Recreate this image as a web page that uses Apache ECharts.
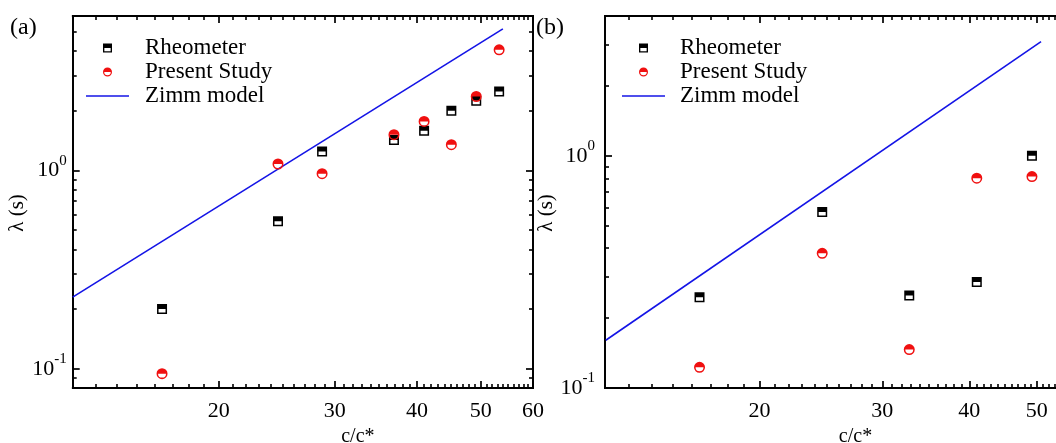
<!DOCTYPE html>
<html>
<head>
<meta charset="utf-8">
<script src="https://cdn.jsdelivr.net/npm/echarts@6/dist/echarts.min.js"></script>
<style>
html,body{margin:0;padding:0;overflow:hidden;background:#fff}
#c{width:1100px;height:443px}
</style>
</head>
<body>
<div id="c"></div>
<script>
// ---- Panel (a) data ----
const xA = [16.4, 24.6, 28.7, 36.9, 41.0, 45.1, 49.2, 53.3];
const rheoA = [0.200, 0.554, 1.246, 1.422, 1.585, 1.998, 2.243, 2.498];
const presentA = [0.0945, 1.077, 0.962, 1.513, 1.765, 1.347, 2.357, 4.05];
const zimmAx = [12.0, 54.0];
const zimmAy = [0.2296, 5.165];

// ---- Panel (b) data ----
const xB = [16.4, 24.6, 32.8, 41.0, 49.2];
const rheoB = [0.246, 0.573, 0.250, 0.286, 1.0];
const presentB = [0.1228, 0.380, 0.1464, 0.801, 0.814];
const zimmBx = [12.03, 50.7];
const zimmBy = [0.1606, 3.105];

// ---- Tick values ----
const xMajorTicks = [20, 30, 40, 50, 60];
const xMinorTicks = [13,14,15,16,17,18,19,21,22,23,24,25,26,27,28,29,31,32,33,34,35,36,37,38,39,41,42,43,44,45,46,47,48,49,51,52,53,54,55,56,57,58,59];
const yMajorTicks = [0.1, 1];
const yMinorTicksA = [0.09,0.2,0.3,0.4,0.5,0.6,0.7,0.8,0.9,2,3,4,5];
const yMinorTicksB = [0.2,0.3,0.4,0.5,0.6,0.7,0.8,0.9,2,3];

const FONT = 'Liberation Serif';
const BLUE = '#1414e6';
const RED = '#f01010';
const SQ = 'path://M0,0H10V10H0Z M1.5,5V8.5H8.5V5Z';
const CI = 'path://M0,5A5,5,0,1,1,10,5A5,5,0,1,1,0,5Z M1.4,5A3.6,3.6,0,0,0,8.6,5Z';
const LINE_ICON = 'path://M0,0H43V1.6H0Z';
const zip = (a, b) => a.map((v, i) => [v, b[i]]);
const LINE = {show:true, lineStyle:{color:'#000', width:1.8}};

function xAxes(grid, min, max, namePad) {
  const base = {type:'log', logBase:10, gridIndex:grid, min:min, max:max, splitLine:{show:false}};
  const tickMaj = {show:true, inside:true, length:7, lineStyle:{color:'#000', width:1.7}, customValues:xMajorTicks};
  const tickMin = {show:true, inside:true, length:4, lineStyle:{color:'#000', width:1.6}, customValues:xMinorTicks};
  const noLab = {show:false, customValues:xMinorTicks};
  return [
    Object.assign({}, base, {position:'bottom', axisLine:LINE, axisTick:tickMaj,
      axisLabel:{show:true, customValues:xMajorTicks, margin:12, fontSize:22, fontFamily:FONT, color:'#000',
        formatter: v => String(Math.round(v))},
      name:'c/c*', nameLocation:'middle', nameGap:38,
      nameTextStyle:{fontSize:20, fontFamily:FONT, color:'#000', padding:[0,0,0,namePad]}}),
    Object.assign({}, base, {position:'bottom', axisLine:LINE, axisTick:tickMin, axisLabel:noLab}),
    Object.assign({}, base, {position:'top', axisLine:LINE, axisTick:tickMaj, axisLabel:{show:false, customValues:xMajorTicks}}),
    Object.assign({}, base, {position:'top', axisLine:LINE, axisTick:tickMin, axisLabel:noLab})
  ];
}
function yAxes(grid, min, max, minors, labelMargin, nameGap) {
  const base = {type:'log', logBase:10, gridIndex:grid, min:min, max:max, splitLine:{show:false}};
  const tickMaj = {show:true, inside:true, length:7, lineStyle:{color:'#000', width:1.7}, customValues:yMajorTicks};
  const tickMin = {show:true, inside:true, length:4, lineStyle:{color:'#000', width:1.6}, customValues:minors};
  const noLab = {show:false, customValues:minors};
  return [
    Object.assign({}, base, {position:'left', axisLine:LINE, axisTick:tickMaj,
      axisLabel:{show:true, customValues:yMajorTicks, margin:labelMargin,
        formatter: v => '{b|10}{s|' + (Math.round(Math.log10(v)) === 0 ? '0' : '-1') + '}',
        rich:{
          b:{fontSize:22, fontFamily:FONT, color:'#000', lineHeight:34},
          s:{fontSize:15, fontFamily:FONT, color:'#000', lineHeight:15, verticalAlign:'top'}
        }},
      name:'λ (s)', nameLocation:'middle', nameGap:nameGap,
      nameTextStyle:{fontSize:21, fontFamily:FONT, color:'#000', padding:[0,22,0,0]}}),
    Object.assign({}, base, {position:'left', axisLine:LINE, axisTick:tickMin, axisLabel:noLab}),
    Object.assign({}, base, {position:'right', axisLine:LINE, axisTick:tickMaj, axisLabel:{show:false, customValues:yMajorTicks}}),
    Object.assign({}, base, {position:'right', axisLine:LINE, axisTick:tickMin, axisLabel:noLab})
  ];
}
function panelSeries(axisIdx, xs, rheo, present, zx, zy) {
  return [
    {type:'line', name:'Zimm model', xAxisIndex:axisIdx, yAxisIndex:axisIdx, data:zip(zx, zy),
      showSymbol:false, symbol:'none', lineStyle:{color:BLUE, width:1.6}, itemStyle:{color:BLUE}, z:2},
    {type:'scatter', name:'Rheometer', xAxisIndex:axisIdx, yAxisIndex:axisIdx, data:zip(xs, rheo),
      symbol:SQ, symbolSize:10, itemStyle:{color:'#000', opacity:1}, z:3},
    {type:'scatter', name:'Present Study', xAxisIndex:axisIdx, yAxisIndex:axisIdx, data:zip(xs, present),
      symbol:CI, symbolSize:11, itemStyle:{color:RED, opacity:1}, z:4}
  ];
}
function legend(left, pad) {
  return {left:left, top:36, padding:0, orient:'vertical', itemWidth:43, itemHeight:9, itemGap:0,
    selectedMode:false,
    data:['Rheometer','Present Study',{name:'Zimm model', icon:LINE_ICON}],
    textStyle:{fontFamily:FONT, fontSize:23, color:'#000', lineHeight:24, padding:[0,0,0,pad]}};
}
const chart = echarts.init(document.getElementById('c'), null, {renderer:'canvas'});
chart.setOption({
  animation:false,
  backgroundColor:'#fff',
  title:[
    {text:'(a)', left:5, top:11, textStyle:{fontFamily:FONT, fontSize:24, fontWeight:'normal', color:'#000'}},
    {text:'(b)', left:531, top:11, textStyle:{fontFamily:FONT, fontSize:24, fontWeight:'normal', color:'#000'}}
  ],
  legend:[legend(86, 11), legend(622, 10)],
  grid:[
    {left:72.7, top:16, width:460.3, height:372, outerBoundsMode:'none', containLabel:false},
    {left:605, top:16, width:487, height:372, outerBoundsMode:'none', containLabel:false}
  ],
  xAxis: xAxes(0, 12, 60, 110).concat(xAxes(1, 12, 60, 14)),
  yAxis: yAxes(0, 0.08, 6, yMinorTicksA, 6, 40).concat(yAxes(1, 0.1, 4, yMinorTicksB, 10, 43)),
  series: panelSeries(0, xA, rheoA, presentA, zimmAx, zimmAy)
    .concat(panelSeries(4, xB, rheoB, presentB, zimmBx, zimmBy))
});
</script>
</body>
</html>
